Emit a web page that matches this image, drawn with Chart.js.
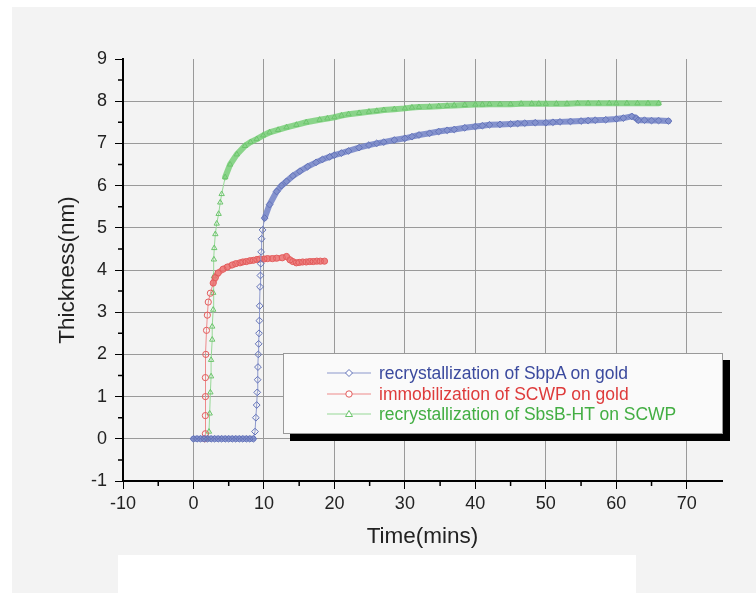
<!DOCTYPE html>
<html>
<head>
<meta charset="UTF-8">
<title>Thickness vs time</title>
<script src="https://cdn.jsdelivr.net/npm/chart.js@4.4.1/dist/chart.umd.min.js"></script>
<style>
    html, body { margin: 0; padding: 0; background: #fff; }
    #wrap { position: relative; width: 756px; height: 593px; overflow: hidden; }
    #panel { position: absolute; left: 12px; top: 7px; right: 0; bottom: 0; background: #f3f3f3; }
    #blank { position: absolute; left: 118px; top: 555px; width: 518px; height: 38px; background: #fff; }
    #chart { position: absolute; left: 0; top: 0; }
    #legend {
        position: absolute; left: 283px; top: 353px; width: 438px; height: 79px;
        background: #fafafa; border: 1px solid #999; box-shadow: 7px 7px 0 #000;
        font: 17.5px "Liberation Sans", Arial, sans-serif;
    }
    .row { position: absolute; left: 43px; height: 20px; line-height: 20px; white-space: nowrap; }
    .row svg { position: absolute; left: 0; top: 4px; }
    .row span { position: absolute; left: 52px; top: 0; }
</style>
</head>
<body>
<div id="wrap">
    <div id="panel"></div>
    <div id="blank"></div>
    <canvas id="chart" width="756" height="593"></canvas>
    <div id="legend"></div>
</div>
<script>
    // data: [time (mins), thickness (nm)]
    const sbpaGold = [
        [0,0],[0.5,0],[1,0],[1.5,0],[2,0],[2.5,0],[3,0],[3.5,0],[4,0],[4.5,0],[5,0],[5.5,0],[6,0],[6.5,0],[7,0],[7.5,0],[8,0],[8.5,0],
        [8.73,0.17],[8.85,0.5],[8.97,0.8],[9.05,1.1],[9.1,1.4],[9.15,1.7],[9.2,2.0],[9.25,2.25],[9.3,2.5],[9.35,2.8],[9.4,3.15],
        [9.45,3.6],[9.5,3.87],[9.55,4.15],[9.6,4.43],[9.67,4.74],[9.8,4.95],[10.1,5.23],[10.8,5.55],[11.8,5.86],[12.5,6.0],[13.2,6.1],
        [14.1,6.23],[15.1,6.34],[16.2,6.45],[17.4,6.55],[18.3,6.62],[19.3,6.68],[20,6.72],[21,6.77],[22,6.82],[23.5,6.9],[24.9,6.96],
        [26,7.0],[27,7.03],[28.5,7.08],[30,7.12],[31,7.16],[32,7.2],[33.5,7.24],[34.8,7.28],[36,7.31],[37,7.33],[38.5,7.37],[40,7.4],
        [41,7.42],[42,7.44],[43.5,7.45],[45,7.46],[46,7.47],[47,7.48],[48.5,7.49],[50,7.49],[51,7.5],[52,7.51],[53.5,7.52],[55,7.53],
        [56,7.54],[57,7.55],[58.5,7.56],[60,7.58],[61,7.6],[62.2,7.64],[62.8,7.6],[63.1,7.55],[64,7.55],[65,7.54],[66,7.54],[67.4,7.53]
    ];
    const scwpGold = [
        [1.6,0],[1.69,0.12],[1.69,0.55],[1.7,1.0],[1.69,1.45],[1.75,2.0],[1.85,2.57],[1.97,2.93],[2.1,3.24],[2.4,3.45],[2.8,3.69],
        [3.1,3.82],[3.5,3.93],[4.2,4.02],[4.8,4.07],[5.5,4.12],[6.0,4.15],[6.6,4.17],[7.0,4.19],[7.5,4.2],[8.0,4.22],[8.5,4.23],
        [9.0,4.25],[9.4,4.26],[10,4.26],[10.5,4.27],[11.2,4.27],[11.8,4.28],[12.6,4.29],[13.2,4.32],[13.7,4.24],[14.1,4.2],[14.6,4.17],
        [15.0,4.18],[15.5,4.19],[16,4.19],[16.5,4.2],[17,4.2],[17.5,4.21],[18,4.21],[18.6,4.21]
    ];
    const sbsbScwp = [
        [2.0,0],[2.2,0.17],[2.3,0.6],[2.4,1.1],[2.5,1.48],[2.5,1.87],[2.66,2.35],[2.66,2.66],[2.8,3.06],[2.8,3.46],[2.9,3.85],
        [2.9,4.25],[2.95,4.52],[3.1,4.85],[3.3,5.1],[3.57,5.33],[3.8,5.6],[4.0,5.8],[4.5,6.2],[5.2,6.5],[6.15,6.74],[7.3,6.94],
        [8.1,7.03],[8.97,7.1],[9.9,7.19],[10.8,7.26],[12,7.32],[13.2,7.38],[14.6,7.44],[16,7.5],[17.9,7.56],[19,7.59],[20,7.62],
        [21,7.66],[22,7.69],[23.5,7.72],[24.9,7.75],[26,7.77],[27,7.79],[28.5,7.81],[30,7.83],[31,7.85],[32,7.86],[33.5,7.87],
        [34.8,7.88],[36,7.89],[37,7.9],[38.5,7.91],[40,7.92],[41,7.92],[42,7.93],[43.5,7.93],[45,7.93],[46.5,7.94],[48,7.94],
        [49,7.94],[50,7.94],[51.5,7.94],[53,7.94],[54.5,7.95],[56,7.95],[57.5,7.95],[59,7.95],[60,7.95],[61.5,7.95],[63,7.95],
        [64.5,7.95],[66,7.95]
    ];
    const seriesLabels = [
        'recrystallization of SbpA on gold',
        'immobilization of SCWP on gold',
        'recrystallization of SbsB-HT on SCWP'
    ];
    const xTicks = [-10, 0, 10, 20, 30, 40, 50, 60, 70];
    const yTicks = [-1, 0, 1, 2, 3, 4, 5, 6, 7, 8, 9];

    const markColors = ['#6272b8', '#e25c5c', '#6cc46c'];
    const lineColors = ['#8c98cc', '#ee8a8a', '#96d896'];
    const bandColors = ['rgba(112,128,198,0.85)', 'rgba(236,108,108,0.85)', 'rgba(126,208,126,0.9)'];
    const textColors = ['#3b4a9e', '#de3b3b', '#43ae43'];
    const styles = ['rectRot', 'circle', 'triangle'];
    const allData = [sbpaGold, scwpGold, sbsbScwp];

    // where the recorded points crowd together they read as one thick band
    const crowded = c => Math.abs(c.p1.x - c.p0.x) > Math.abs(c.p1.y - c.p0.y) * 0.3;

    const datasets = allData.map((d, i) => ({
        label: seriesLabels[i],
        data: d.map(p => ({ x: p[0], y: p[1] })),
        borderColor: lineColors[i],
        borderWidth: 1,
        segment: {
            borderWidth: c => crowded(c) ? 6 : 1,
            borderColor: c => crowded(c) ? bandColors[i] : lineColors[i]
        },
        borderCapStyle: 'round',
        pointStyle: styles[i],
        pointRadius: i === 0 ? 3.4 : 3.1,
        pointBorderColor: markColors[i],
        pointBackgroundColor: 'rgba(0,0,0,0)',
        pointBorderWidth: 1,
        tension: 0,
        showLine: true
    }));

    // small ticks between the labelled ones
    const minorTicks = {
        id: 'minorTicks',
        afterDraw(chart) {
            const { ctx, scales: { x, y } } = chart;
            ctx.save();
            ctx.strokeStyle = '#000';
            ctx.lineWidth = 1.5;
            ctx.beginPath();
            for (let v = -5; v < 75; v += 10) {
                const px = x.getPixelForValue(v);
                ctx.moveTo(px, y.bottom);
                ctx.lineTo(px, y.bottom + 5);
            }
            for (let v = -0.5; v < 9; v += 1) {
                const py = y.getPixelForValue(v);
                ctx.moveTo(x.left, py);
                ctx.lineTo(x.left - 5, py);
            }
            ctx.stroke();
            ctx.restore();
        }
    };

    const font = '"Liberation Sans", Arial, sans-serif';

    new Chart(document.getElementById('chart'), {
        type: 'scatter',
        data: { datasets },
        options: {
            responsive: false,
            animation: false,
            layout: { padding: { left: 50, top: 59, right: 34, bottom: 38.5 } },
            plugins: { legend: { display: false }, tooltip: { enabled: false } },
            scales: {
                x: {
                    type: 'linear',
                    min: -10, max: 75,
                    afterFit: s => { s.height = 73.5; },
                    afterBuildTicks: s => { s.ticks = xTicks.map(v => ({ value: v })); },
                    border: { color: '#000', width: 2 },
                    grid: {
                        color: c => (c.tick && (c.tick.value === -10)) ? 'rgba(0,0,0,0)' : '#999',
                        tickColor: '#000',
                        tickLength: 8,
                        lineWidth: 1
                    },
                    ticks: { color: '#222', padding: 4, font: { family: font, size: 18 } },
                    title: { display: true, text: 'Time(mins)', color: '#222', font: { family: font, size: 22.5 }, padding: 4 }
                },
                y: {
                    type: 'linear',
                    min: -1, max: 9,
                    afterFit: s => { s.width = 73; },
                    afterBuildTicks: s => { s.ticks = yTicks.map(v => ({ value: v })); },
                    border: { color: '#000', width: 2 },
                    grid: {
                        color: c => (c.tick && (c.tick.value === -1 || c.tick.value === 9)) ? 'rgba(0,0,0,0)' : '#999',
                        tickColor: '#000',
                        tickLength: 8,
                        lineWidth: 1
                    },
                    ticks: { color: '#222', padding: 8, font: { family: font, size: 18 } },
                    title: { display: true, text: 'Thickness(nm)', color: '#222', font: { family: font, size: 22.5 }, padding: 4 }
                }
            }
        },
        plugins: [minorTicks]
    });

    // legend box with drop shadow
    const legend = document.getElementById('legend');
    seriesLabels.forEach((label, i) => {
        const row = document.createElement('div');
        row.className = 'row';
        row.style.top = (9 + i * 20.5) + 'px';
        let mark;
        if (styles[i] === 'rectRot') mark = '<polygon points="22,2.5 25.5,6 22,9.5 18.5,6" fill="#fff" stroke="' + markColors[i] + '"/>';
        else if (styles[i] === 'circle') mark = '<circle cx="22" cy="6" r="3.2" fill="#fff" stroke="' + markColors[i] + '"/>';
        else mark = '<polygon points="22,2.5 25.5,8.5 18.5,8.5" fill="#fff" stroke="' + markColors[i] + '"/>';
        row.innerHTML = '<svg width="44" height="12"><line x1="0" y1="6" x2="44" y2="6" stroke="' + lineColors[i] + '" stroke-width="1"/>' + mark + '</svg>' +
            '<span style="color:' + textColors[i] + '">' + label + '</span>';
        legend.appendChild(row);
    });
</script>
</body>
</html>
